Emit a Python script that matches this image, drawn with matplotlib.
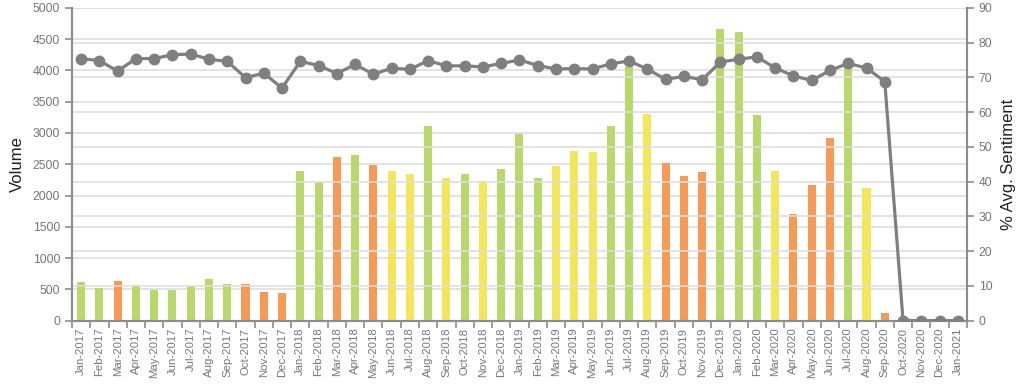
import matplotlib
matplotlib.use("Agg")
import matplotlib.pyplot as plt
import numpy as np

months = ["Jan-2017", "Feb-2017", "Mar-2017", "Apr-2017", "May-2017", "Jun-2017", "Jul-2017",
          "Aug-2017", "Sep-2017", "Oct-2017", "Nov-2017", "Dec-2017",
          "Jan-2018", "Feb-2018", "Mar-2018", "Apr-2018", "May-2018", "Jun-2018", "Jul-2018",
          "Aug-2018", "Sep-2018", "Oct-2018", "Nov-2018", "Dec-2018",
          "Jan-2019", "Feb-2019", "Mar-2019", "Apr-2019", "May-2019", "Jun-2019", "Jul-2019",
          "Aug-2019", "Sep-2019", "Oct-2019", "Nov-2019", "Dec-2019",
          "Jan-2020", "Feb-2020", "Mar-2020", "Apr-2020", "May-2020", "Jun-2020", "Jul-2020",
          "Aug-2020", "Sep-2020", "Oct-2020", "Nov-2020", "Dec-2020", "Jan-2021"]

volume = [625, 516, 638, 569, 489, 489, 553, 665, 580, 580, 457, 436,
          2385, 2209, 2621, 2655, 2488, 2385, 2348, 3107, 2284, 2348, 2225, 2428,
          2990, 2273, 2471, 2717, 2701, 3107, 4048, 3299, 2520, 2316, 2375, 4667,
          4619, 3289, 2385, 1702, 2167, 2925, 4100, 2113, 125, 0, 0, 0, 0]

# sentiment class of each bar: g = positive, y = neutral, o = negative
bar_class = ["g", "g", "o", "g", "g", "g", "g", "g", "g", "o", "o", "o",
             "g", "g", "o", "g", "o", "y", "y", "g", "y", "g", "y", "g",
             "g", "g", "y", "y", "y", "g", "g", "y", "o", "o", "o", "g",
             "g", "g", "y", "o", "o", "o", "g", "y", "o", "o", "o", "o", "o"]

sentiment = [75.4, 74.8, 71.8, 75.4, 75.4, 76.5, 76.7, 75.2, 74.6, 69.9, 71.2, 66.9,
             74.6, 73.4, 71.1, 73.7, 70.9, 72.6, 72.3, 74.8, 73.3, 73.3, 73.0, 74.0,
             75.0, 73.4, 72.4, 72.5, 72.4, 73.9, 74.7, 72.4, 69.4, 70.3, 69.3, 74.4,
             75.2, 75.9, 72.7, 70.4, 69.1, 72.0, 74.0, 72.7, 68.8, 0, 0, 0, 0]

palette = {"g": "#B8D86B", "y": "#F3E65A", "o": "#F79A55"}
colors = [palette[c] for c in bar_class]

plt.rcParams['font.family'] = ['Liberation Sans', 'DejaVu Sans']

fig = plt.figure(figsize=(10.24, 3.91), dpi=100)
ax = fig.add_axes([0.0703, 0.180, 0.874, 0.800])
ax2 = ax.twinx()

x = np.arange(len(months))
grid_c = "#DEDEDE"
axis_c = "#8C8C8C"
tick_c = "#767676"

ax.set_zorder(1)
ax2.set_zorder(2)
ax.patch.set_visible(False)

ax.bar(x, volume, width=0.44, color=colors, zorder=3)
ax.set_ylim(0, 5000)
ax.set_yticks(np.arange(0, 5001, 500))
ax.set_xlim(-0.5, len(months) - 0.5)
ax.set_xticks(x)
ax.set_xticklabels(months, rotation=90, fontsize=8.2, color=tick_c)
ax.set_xticks(np.arange(-0.5, len(months), 1), minor=True)
ax.tick_params(axis='x', which='major', length=0, pad=5)
ax.tick_params(axis='x', which='minor', length=5, width=1.2, color=axis_c)
ax.tick_params(axis='y', labelsize=8.8, labelcolor=tick_c, length=5, width=1.2, color=axis_c)
ax.grid(axis='y', color=grid_c, linewidth=1.2, zorder=0)
ax.set_axisbelow(True)
ax.set_ylabel("Volume", fontsize=12, color="#222222", labelpad=6)

ax2.plot(x, sentiment, color="#7F7F7F", linewidth=2.3, marker='o', markersize=7.5,
         markerfacecolor="#7F7F7F", markeredgecolor="#7F7F7F", zorder=4)
ax2.set_ylim(0, 90)
ax2.set_yticks(np.arange(0, 91, 10))
ax2.tick_params(axis='y', labelsize=8.8, labelcolor=tick_c, length=5, width=1.2, color=axis_c)
ax2.grid(axis='y', color=grid_c, linewidth=1.2)
ax2.set_ylabel("% Avg. Sentiment", fontsize=12, color="#222222", labelpad=6)

for a in (ax, ax2):
    a.spines['top'].set_visible(False)
    for s in ('left', 'right', 'bottom'):
        a.spines[s].set_color(axis_c)
        a.spines[s].set_linewidth(1.5)

# keep right-axis grid below bars
ax2.set_axisbelow(True)
for gl in ax2.get_ygridlines():
    gl.set_zorder(0)

fig.savefig("out.png", dpi=100)
